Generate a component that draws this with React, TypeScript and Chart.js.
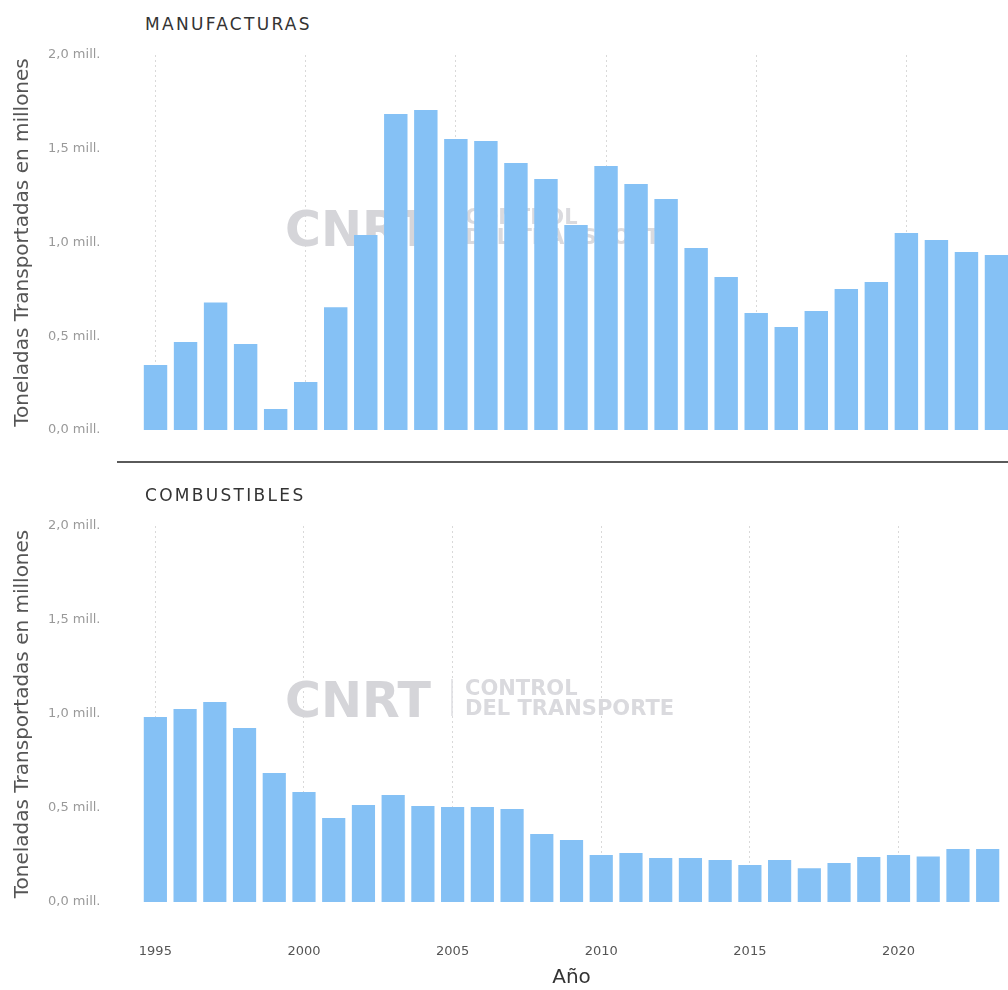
import React, { useEffect, useRef } from "react";
import { Chart, registerables } from "chart.js";

Chart.register(...registerables);

const years: string[] = [
  "1995", "1996", "1997", "1998", "1999", "2000", "2001", "2002", "2003", "2004",
  "2005", "2006", "2007", "2008", "2009", "2010", "2011", "2012", "2013", "2014",
  "2015", "2016", "2017", "2018", "2019", "2020", "2021", "2022", "2023",
];

const manufacturas: number[] = [
  0.347, 0.469, 0.68, 0.459, 0.112, 0.256, 0.655, 1.04, 1.685, 1.707,
  1.552, 1.541, 1.424, 1.339, 1.093, 1.408, 1.312, 1.232, 0.971, 0.816,
  0.624, 0.549, 0.635, 0.752, 0.789, 1.051, 1.013, 0.949, 0.933,
];

const combustibles: number[] = [
  0.984, 1.027, 1.064, 0.926, 0.686, 0.585, 0.447, 0.516, 0.569, 0.511,
  0.505, 0.505, 0.495, 0.362, 0.33, 0.25, 0.26, 0.234, 0.234, 0.223,
  0.197, 0.223, 0.18, 0.207, 0.239, 0.25, 0.242, 0.282, 0.282,
];

const yTickValues: number[] = [0, 0.5, 1, 1.5, 2];
const yAxisTitle = "Toneladas Transportadas en millones";
const xAxisTitle = "Año";
const panelTitles: string[] = ["MANUFACTURAS", "COMBUSTIBLES"];
const watermarkMain = "CNRT";
const watermarkLines: string[] = ["CONTROL", "DEL TRANSPORTE"];

const BAR_COLOR = "#85c1f5";
const CANVAS_W = 1030;

const watermarkPlugin = {
  id: "cnrtWatermark",
  beforeDatasetsDraw(chart: any) {
    const { ctx, chartArea } = chart;
    const x0 = chartArea.left;
    const y0 = chartArea.top;
    ctx.save();
    ctx.fillStyle = "#d5d5d9";
    ctx.textBaseline = "alphabetic";
    ctx.textAlign = "left";
    ctx.font = "bold 49px 'DejaVu Sans'";
    ctx.fillText(watermarkMain, x0 + 144.5, y0 + 191);
    ctx.strokeStyle = "#dedee2";
    ctx.lineWidth = 1.5;
    ctx.beginPath();
    ctx.moveTo(x0 + 311.5, y0 + 153);
    ctx.lineTo(x0 + 311.5, y0 + 190);
    ctx.stroke();
    ctx.fillStyle = "#dadade";
    ctx.font = "bold 21px 'DejaVu Sans'";
    ctx.fillText(watermarkLines[0], x0 + 324.5, y0 + 169);
    ctx.fillText(watermarkLines[1], x0 + 324.5, y0 + 189);
    ctx.restore();
  },
};

function Panel(props: { values: number[]; top: number; height: number; showX: boolean; padTop: number; xHeight: number }) {
  const ref = useRef<HTMLCanvasElement | null>(null);
  useEffect(() => {
    if (!ref.current) return;
    const chart = new Chart(ref.current, {
      type: "bar",
      data: {
        labels: years,
        datasets: [
          {
            data: props.values,
            backgroundColor: BAR_COLOR,
            borderWidth: 0,
            categoryPercentage: 1,
            barPercentage: 0.78,
          },
        ],
      },
      options: {
        animation: false,
        responsive: false,
        maintainAspectRatio: false,
        layout: { padding: { top: props.padTop, right: 18.5, left: 0, bottom: 0 } },
        plugins: { legend: { display: false }, tooltip: { enabled: false }, title: { display: false } },
        scales: {
          x: {
            grid: {
              display: true,
              offset: false,
              drawTicks: false,
              color: (c: any) => (c.index % 5 === 0 ? "#d9d9d9" : "rgba(0,0,0,0)"),
              lineWidth: 1,
            },
            border: { display: false, dash: [2, 3] },
            ticks: {
              display: props.showX,
              autoSkip: false,
              maxRotation: 0,
              padding: 42,
              color: "#555555",
              font: { family: "'DejaVu Sans'", size: 13 },
              callback: (_v: any, i: number) => (i % 5 === 0 ? years[i] : ""),
            },
            title: {
              display: props.showX,
              text: xAxisTitle,
              color: "#333333",
              font: { family: "'DejaVu Sans'", size: 20 },
              padding: { top: 0, bottom: 0 },
            },
            afterFit: (s: any) => {
              s.height = props.xHeight;
            },
          },
          y: {
            min: 0,
            max: 2,
            grid: { display: false, drawTicks: false },
            border: { display: false },
            afterBuildTicks: (s: any) => {
              s.ticks = yTickValues.map((v) => ({ value: v }));
            },
            ticks: {
              padding: 40,
              color: "#999999",
              font: { family: "'DejaVu Sans'", size: 13 },
              callback: (v: any) => Number(v).toFixed(1).replace(".", ",") + " mill.",
            },
            title: {
              display: true,
              text: yAxisTitle,
              color: "#555555",
              font: { family: "'DejaVu Sans'", size: 20 },
              padding: { top: 10.5, bottom: 0 },
            },
            afterFit: (s: any) => {
              s.width = 140.5;
            },
          },
        },
      },
      plugins: [watermarkPlugin],
    } as any);
    return () => chart.destroy();
  }, []);
  return (
    <canvas
      ref={ref}
      width={CANVAS_W}
      height={props.height}
      style={{ position: "absolute", left: 0, top: props.top, width: CANVAS_W, height: props.height }}
    />
  );
}

const titleStyle: React.CSSProperties = {
  position: "absolute",
  left: 145,
  fontFamily: "'DejaVu Sans', sans-serif",
  fontSize: 17,
  letterSpacing: 2.3,
  lineHeight: "20px",
  color: "#333333",
  whiteSpace: "nowrap",
};

export default function App() {
  return (
    <div
      style={{
        position: "absolute",
        left: 0,
        top: 0,
        width: 1008,
        height: 990,
        overflow: "hidden",
        background: "#ffffff",
      }}
    >
      <div style={{ ...titleStyle, top: 13.5 }}>{panelTitles[0]}</div>
      <Panel values={manufacturas} top={0} height={480} showX={false} padTop={55} xHeight={50} />
      <Panel values={combustibles} top={470} height={520} showX={true} padTop={56} xHeight={88} />
      <div style={{ position: "absolute", left: 117, top: 461, width: 900, height: 2, background: "#5a5a5a" }} />
      <div style={{ ...titleStyle, top: 484.5 }}>{panelTitles[1]}</div>
    </div>
  );
}
